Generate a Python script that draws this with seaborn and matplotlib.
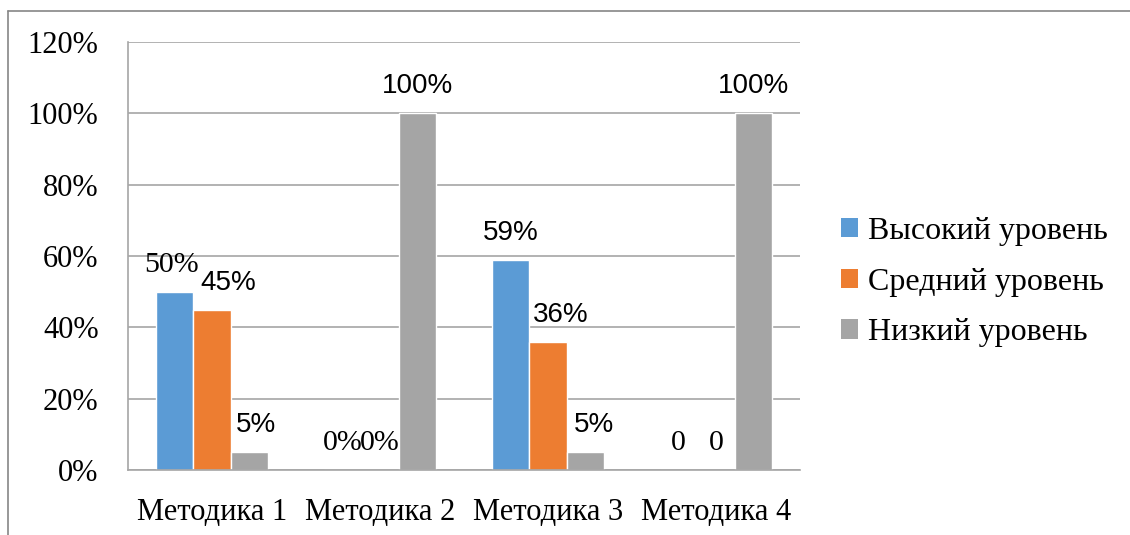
import pandas as pd
import seaborn as sns
import matplotlib.pyplot as plt
from matplotlib.lines import Line2D
from matplotlib.patches import Patch

methods = ["Методика 1", "Методика 2", "Методика 3", "Методика 4"]
levels = ["Высокий уровень", "Средний уровень", "Низкий уровень"]
high = [50, 0, 59, 0]
mid = [45, 0, 36, 0]
low = [5, 100, 5, 100]
high_labels = ["50%", "0%", "59%", "0"]
mid_labels = ["45%", "0%", "36%", "0"]
low_labels = ["5%", "100%", "5%", "100%"]
yticks = [0, 20, 40, 60, 80, 100, 120]
colors = ["#5B9BD5", "#ED7D31", "#A5A5A5"]

# label styling: serif labels and small horizontal nudges (points), as in the original
serif_labels = {("Высокий уровень", "Методика 1")}
label_dx = {("Средний уровень", "Методика 1"): 12, ("Низкий уровень", "Методика 1"): 5,
            ("Средний уровень", "Методика 3"): 9, ("Низкий уровень", "Методика 3"): 6,
            ("Высокий уровень", "Методика 1"): -2}

rows = []
for lvl, vals in zip(levels, [high, mid, low]):
    for m, v in zip(methods, vals):
        rows.append({"method": m, "level": lvl, "value": v})
df = pd.DataFrame(rows)

sns.set_style("white")
plt.rcParams["font.family"] = ["Liberation Serif", "DejaVu Serif"]
plt.rcParams["text.color"] = "black"
plt.rcParams["xtick.labelcolor"] = "black"
plt.rcParams["ytick.labelcolor"] = "black"

fig = plt.figure(figsize=(11.3, 5.35), dpi=100)
ax = fig.add_axes([128 / 1130, 65 / 535, 672 / 1130, 428 / 535])

sns.barplot(data=df, x="method", y="value", hue="level", palette=colors,
            width=0.667, saturation=1, ax=ax, legend=False)

grid_c = "#A6A6A6"
ax.set_ylim(0, 120)
ax.set_xlim(-0.5, 3.5)
ax.set_yticks(yticks)
ax.set_yticklabels([f"{t}%" for t in yticks], fontsize=22)
ax.yaxis.grid(True, color=grid_c, linewidth=1.2)
ax.set_axisbelow(True)
ax.tick_params(axis="y", length=7.2, color=grid_c, width=1.2, pad=14, labelcolor="black")
ax.set_xticks(range(4))
ax.set_xticklabels(methods, fontsize=22)
ax.tick_params(axis="x", length=0, pad=20, labelcolor="black")
ax.set_xticks([-0.5, 0.5, 1.5, 2.5, 3.5], minor=True)
ax.tick_params(axis="x", which="minor", length=7.2, color=grid_c, width=1.2)
ax.set_xlabel("")
ax.set_ylabel("")
for s in ["top", "right"]:
    ax.spines[s].set_visible(False)
for s in ["left", "bottom"]:
    ax.spines[s].set_color(grid_c)
    ax.spines[s].set_linewidth(1.2)

# data labels
for cont, lvl, labs, vals in zip(ax.containers, levels, [high_labels, mid_labels, low_labels], [high, mid, low]):
    for bar, m, lab, v in zip(cont, methods, labs, vals):
        x = bar.get_x() + bar.get_width() / 2
        if v == 0 or (lvl, m) in serif_labels:
            fam, fs = "Liberation Serif", 21.5
        else:
            fam, fs = "Liberation Sans", 20
        dx = label_dx.get((lvl, m), 0)
        ax.annotate(lab, (x, v), xytext=(dx, 14.4), textcoords="offset points",
                    ha="center", va="baseline", fontsize=fs, family=fam, color="black")

handles = [Patch(facecolor=c, edgecolor="none") for c in colors]
fig.legend(handles, levels, loc="center left", bbox_to_anchor=(812 / 1130, 1 - 282 / 535),
           frameon=False, fontsize=23, handlelength=0.55, handleheight=0.55,
           handletextpad=0.3, labelspacing=0.68, labelcolor="black")

# outer chart border (top and left visible)
bx, by = 8 / 1130, 1 - 11 / 535
fig.add_artist(Line2D([bx, bx], [0, by], color="#868686", linewidth=1.2))
fig.add_artist(Line2D([bx, 1], [by, by], color="#868686", linewidth=1.2))

fig.savefig("out.png", dpi=100)
